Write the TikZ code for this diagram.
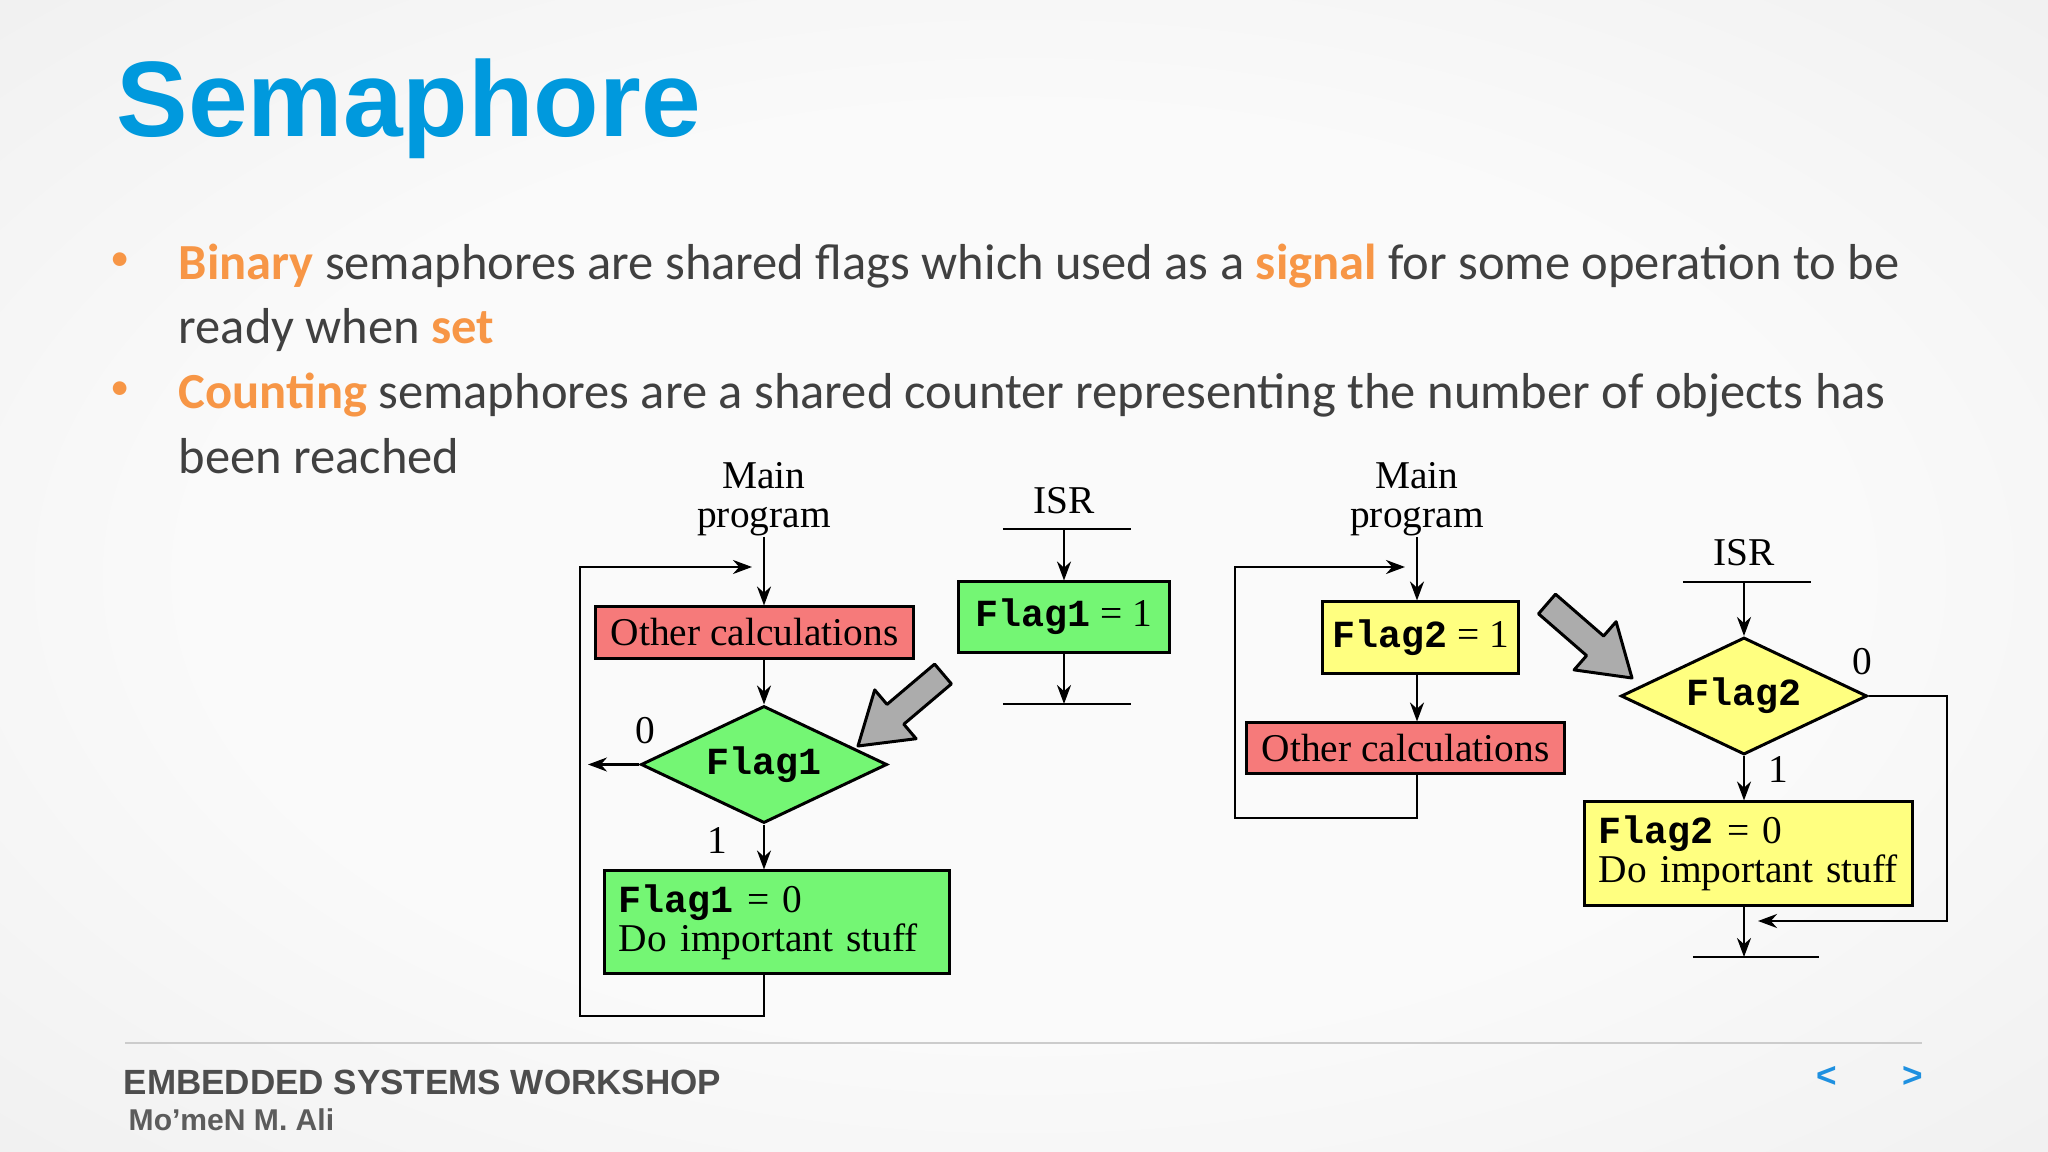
\documentclass[tikz,border=0pt]{standalone}
\usepackage{fontspec}
\setmainfont{Liberation Serif}
\setmonofont{Liberation Mono}
\newfontfamily\headfont{Liberation Sans}
\newfontfamily\slidefont{Carlito}
\usepackage{xcolor}
\usepackage{tikz}
\usetikzlibrary{shapes.geometric,arrows.meta,positioning,calc}
\definecolor{titleblue}{RGB}{0,153,221}
\definecolor{accent}{RGB}{247,150,70}
\definecolor{bodygray}{RGB}{64,64,64}
\definecolor{calcred}{RGB}{246,122,122}
\definecolor{flaggreen}{RGB}{116,246,116}
\definecolor{flagyellow}{RGB}{255,255,128}
\definecolor{fatgray}{RGB}{172,172,172}
\definecolor{rulegray}{RGB}{204,204,204}
\definecolor{footgray}{RGB}{77,77,77}
\definecolor{authgray}{RGB}{92,92,92}
\definecolor{navblue}{RGB}{30,144,224}
\definecolor{slidebg}{RGB}{232,232,232}
\definecolor{slideglow}{RGB}{250,250,250}
\pgfdeclareradialshading{slidelight}{\pgfpoint{0bp}{0bp}}{color(0bp)=(slideglow); color(20bp)=(slideglow); color(50bp)=(slidebg)}
\newcommand{\keyword}[1]{{\bfseries\color{accent}#1}}
\newcommand{\flagvar}[1]{{\fontsize{10.9pt}{11pt}\ttfamily\bfseries #1}}
\newcommand{\diagfont}{\fontsize{11.2pt}{11.1pt}\selectfont}
\tikzset{
  box/.style={draw=black,line width=0.85pt,inner sep=0pt,font=\diagfont},
  dec/.style={diamond,draw=black,line width=0.85pt,aspect=2.1,inner sep=0pt,
    minimum width=2.46cm,minimum height=1.17cm,font=\diagfont},
  arr/.style={-{Stealth[length=0.19cm,width=0.14cm]},line width=0.7pt},
  wire/.style={line width=0.7pt},
  lbl/.style={font=\diagfont,inner sep=0pt},
  fat/.style={draw=black,line width=0.85pt,fill=fatgray,line join=round},
  bodyline/.style={anchor=base west,inner sep=0pt,text=bodygray,
    font=\slidefont\fontsize{14.37pt}{16pt}\selectfont},
  dot/.style={inner sep=0pt,text=accent,font=\slidefont\fontsize{11pt}{12pt}\selectfont}
}
\begin{document}
\begin{tikzpicture}[x=0.01cm,y=-0.01cm]
\useasboundingbox (0,0) rectangle (2048,1152);
\shade[shading=slidelight] (0,0) rectangle (2048,1152);
% title and bullets
\node[anchor=base west,inner sep=0pt,text=titleblue,
  font=\headfont\bfseries\fontsize{30.5pt}{32pt}\selectfont] (title) at (116,137) {Semaphore};
\node[dot] (dot1) at (120,262) {•};
\node[bodyline] (line1) at (178,280) {\keyword{Binary} semaphores are shared flags which used as a \keyword{signal} for some operation to be};
\node[bodyline] (line2) at (178,344) {ready when \keyword{set}};
\node[dot] (dot2) at (120,391) {•};
\node[bodyline] (line3) at (178,409) {\keyword{Counting} semaphores are a shared counter representing the number of objects has};
\node[bodyline] (line4) at (178,474) {been reached};
% main program, flag 1
\node[lbl,align=center,anchor=south] (main1) at (764,537) {Main\\program};
\node[box,fill=calcred,minimum width=3.17cm,minimum height=0.51cm] (calc1) at (754.5,632.5) {Other calculations};
\node[dec,fill=flaggreen] (test1) at (764,764.5) {\flagvar{Flag1}};
\node[box,fill=flaggreen,text width=3.16cm,align=left,inner xsep=0.14cm,minimum height=1.02cm] (clear1) at (777,922) {\flagvar{Flag1} = 0\\\mbox{Do important stuff}};
\coordinate (entry1) at (764,567);
\coordinate (rail1) at (580,1016);
\node[lbl] (zero1) at (645,731) {0};
\node[lbl] (one1) at (717,840) {1};
\draw[arr] (main1.south) -- (main1.south |- calc1.north);
\draw[arr] (calc1.south -| test1) -- (test1.north);
\draw[arr] (test1.south) -- (test1.south |- clear1.north);
\draw[arr,shorten >=0.08cm] (test1.west) -- (test1.west -| rail1);
\draw[arr,shorten >=0.12cm] (clear1.south -| test1) |- (rail1) |- (entry1);
% ISR, flag 1
\node[lbl,anchor=base] (isr1) at (1064,514) {ISR};
\coordinate (top1) at (1064,529);
\node[box,fill=flaggreen,minimum width=2.10cm,minimum height=0.70cm] (set1) at (1064,617) {\flagvar{Flag1} = 1};
\coordinate (end1) at (1064,704);
\draw[wire] ([xshift=-0.61cm]top1) -- ([xshift=0.67cm]top1);
\draw[arr] (top1) -- (set1.north);
\draw[arr] (set1.south) -- (end1);
\draw[wire] ([xshift=-0.61cm]end1) -- ([xshift=0.67cm]end1);
\filldraw[fat] (951.4,683.9) -- (903.8,724.2) -- (916.1,738.7) -- (858,746)
  -- (874.7,689.9) -- (887.0,704.4) -- (934.6,664.1) -- cycle;
% main program, flag 2
\node[lbl,align=center,anchor=south] (main2) at (1417,537) {Main\\program};
\node[box,fill=flagyellow,minimum width=1.95cm,minimum height=0.71cm] (set2) at (1420.5,637.5) {\flagvar{Flag2} = 1};
\node[box,fill=calcred,minimum width=3.17cm,minimum height=0.50cm] (calc2) at (1405.5,748) {Other calculations};
\coordinate (entry2) at (1417,567);
\coordinate (rail2) at (1235,818);
\draw[arr] (main2.south) -- (main2.south |- set2.north);
\draw[arr] (set2.south -| main2) -- (main2 |- calc2.north);
\draw[arr,shorten >=0.12cm] (calc2.south -| main2) |- (rail2) |- (entry2);
\filldraw[fat] (1538.5,613.8) -- (1586.6,655.6) -- (1574.1,669.9) -- (1632,678)
  -- (1616.1,621.7) -- (1603.6,636.0) -- (1555.5,594.2) -- cycle;
% ISR, flag 2
\node[lbl,anchor=base] (isr2) at (1744,566) {ISR};
\coordinate (top2) at (1744,582);
\node[dec,fill=flagyellow] (test2) at (1744,696) {\flagvar{Flag2}};
\node[box,fill=flagyellow,text width=2.99cm,align=left,inner xsep=0.14cm,minimum height=1.03cm] (clear2) at (1748.5,853.5) {\flagvar{Flag2} = 0\\\mbox{Do important stuff}};
\coordinate (end2) at (1744,957);
\coordinate (rail3) at (1947,921);
\node[lbl] (zero2) at (1862,662) {0};
\node[lbl] (one2) at (1778,769) {1};
\draw[wire] ([xshift=-0.61cm]top2) -- ([xshift=0.67cm]top2);
\draw[arr] (top2) -- (test2.north);
\draw[arr] (test2.south) -- (test2.south |- clear2.north);
\draw[arr] (clear2.south -| test2) -- (end2);
\draw[arr,shorten >=0.14cm] (test2.east) -| (rail3) -- (rail3 -| end2);
\draw[wire] ([xshift=-0.51cm]end2) -- ([xshift=0.75cm]end2);
% footer
\draw[rulegray,line width=0.85pt] (125,1043) -- (1922,1043);
\node[anchor=base west,inner sep=0pt,text=footgray,
  font=\headfont\bfseries\fontsize{9.96pt}{11pt}\selectfont] (course) at (123,1094) {EMBEDDED SYSTEMS WORKSHOP};
\node[anchor=base west,inner sep=0pt,text=authgray,
  font=\headfont\bfseries\fontsize{8.55pt}{10pt}\selectfont] (author) at (128,1130) {Mo’meN M. Ali};
\node[text=navblue,inner sep=0pt,font=\headfont\bfseries\fontsize{10pt}{11pt}\selectfont] (prev) at (1827,1077) {<};
\node[text=navblue,inner sep=0pt,font=\headfont\bfseries\fontsize{10pt}{11pt}\selectfont] (next) at (1913,1077) {>};
\end{tikzpicture}
\end{document}
